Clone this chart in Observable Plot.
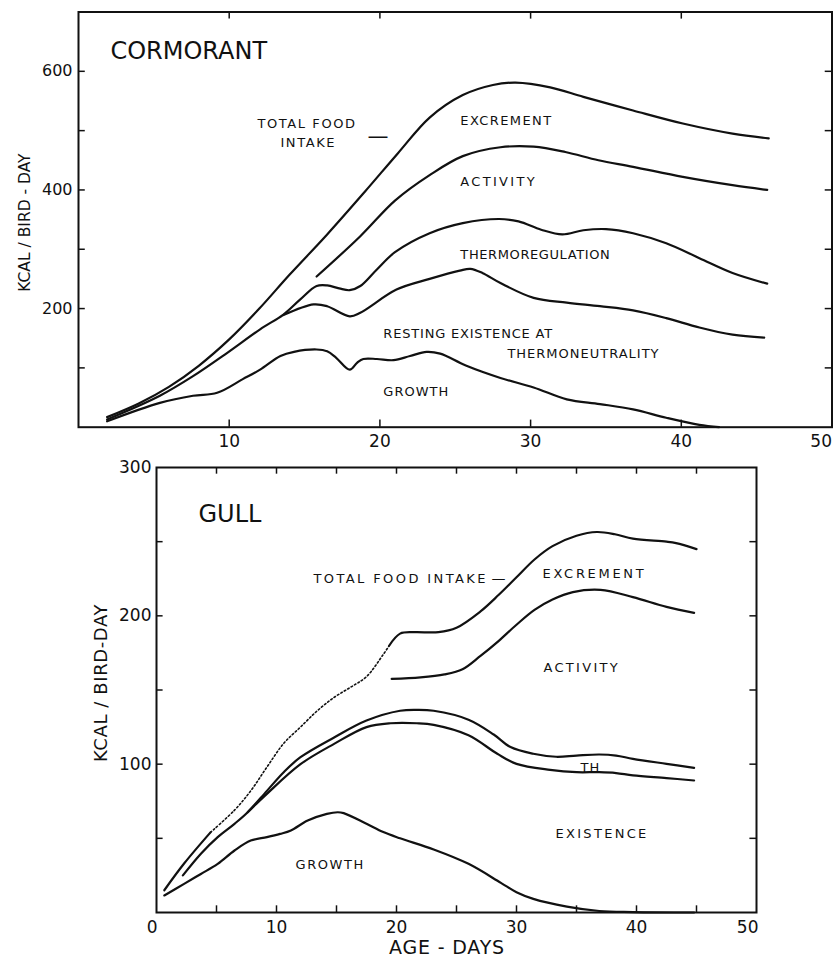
<!DOCTYPE html>
<html><head><meta charset="utf-8">
<script src="https://cdn.jsdelivr.net/npm/d3@7"></script>
<script src="https://cdn.jsdelivr.net/npm/@observablehq/plot@0.6"></script>
<style>
html,body{margin:0;padding:0;background:#fff;}
#chart{position:relative;width:833px;height:959px;overflow:hidden;background:#fff;}
#chart svg{position:absolute;left:0;display:block;background:transparent;}
</style></head><body><div id="chart"></div>
<script>
// ---------------- CORMORANT (kcal / bird-day vs age in days) ----------------
const cormTotalDays = [1.9, 4, 6, 8, 10, 12, 14, 16.5, 19, 21.2, 23.3, 25.5, 27.5, 29, 31.3, 33.5, 36.8, 40.1, 43.4, 45.8];
const cormTotalKcal = [17, 40, 68, 104, 148, 200, 257, 325, 397, 462, 522, 560, 577, 581, 573, 557, 534, 512, 495, 487];

const cormActivityDays = [15.8, 18.7, 21.0, 23.3, 25.5, 28.0, 30.2, 32.3, 34.5, 36.8, 40.1, 43.4, 45.7];
const cormActivityKcal = [254, 322, 382, 425, 457, 472, 473, 464, 450, 439, 422, 408, 400];

const cormThermoDays = [1.9, 5.4, 7.6, 9.85, 12.05, 13.6, 14.7, 15.8, 16.5, 17.3, 18.0, 18.7, 19.8, 21.0, 23.3, 25.5, 27.9, 29.2, 30.7, 32.1, 33.5, 35.0, 36.8, 39.0, 41.2, 43.4, 45.7];
const cormThermoKcal = [13, 53, 86, 125, 165, 190, 215, 238, 239, 234, 231, 238, 266, 295, 327, 344, 351, 347, 333, 325, 332, 334, 327, 310, 285, 260, 242];

const cormExistDays = [13.6, 15.6, 16.5, 18.0, 18.7, 21.1, 23.3, 25.3, 26.0, 26.8, 28.0, 30.2, 32.4, 34.6, 36.8, 39.0, 41.2, 43.4, 45.5];
const cormExistKcal = [189, 207, 204, 187, 193, 232, 250, 264, 267, 260, 243, 218, 210, 204, 197, 184, 168, 156, 151];

const cormGrowthDays = [1.9, 5.4, 7.6, 9.2, 10.9, 12.05, 13.4, 14.3, 15.8, 16.5, 17.1, 18.0, 18.5, 18.9, 19.8, 20.9, 22.0, 23.1, 24.0, 25.7, 28.0, 30.2, 32.4, 34.6, 36.8, 39.0, 41.2, 42.5];
const cormGrowthKcal = [10, 41, 53, 58, 81, 97, 120, 127, 131, 128, 117, 97, 109, 115, 115, 113, 120, 127, 124, 104, 83, 67, 47, 39, 30, 16, 4, 0];

const cormLabelText = ["TOTAL FOOD", "INTAKE", "EXCREMENT", "ACTIVITY", "THERMOREGULATION", "RESTING EXISTENCE AT", "THERMONEUTRALITY", "GROWTH"];
const cormLabelDays = [11.87, 13.4, 25.34, 25.34, 25.34, 20.23, 28.46, 20.23];
const cormLabelKcal = [505, 473, 510, 407, 284, 150, 117, 53];

const cormXTickValues = [10, 20, 30, 40];
const cormXTickLabels = [10, 20, 30, 40];
const cormYTickValues = [100, 200, 300, 400, 500, 600];
const cormYTickLabels = [200, 400, 600];

// ---------------- GULL ----------------
const gullTotalDays = [0.65, 2.3, 4.5, 6.5, 7.85, 9.2, 10.6, 12.0, 13.4, 14.8, 16.2, 17.5, 18.9, 19.4, 20.3, 21.5, 23.5, 25.0, 27.0, 28.5, 30.0, 31.5, 33.0, 35.0, 36.7, 38.2, 39.7, 42.5, 43.3, 45.0];
const gullTotalKcal = [15, 33, 54, 69, 82, 98, 114, 125, 136, 145, 152, 159, 174, 180, 188, 189, 189, 192, 203, 214, 226, 238, 247, 254, 256.5, 255, 252, 250, 249, 245];
const gullTotalDottedFrom = 4.5;   // estimated (dotted) part of the curve
const gullTotalDottedTo = 19.4;

const gullActivityDays = [19.6, 22.0, 24.0, 25.5, 27.0, 28.5, 30.0, 31.5, 33.0, 34.7, 37.0, 39.7, 42.5, 44.8];
const gullActivityKcal = [157.5, 158.5, 160.5, 164, 173, 183, 194, 204, 211, 216, 217.5, 212.6, 206, 202];

const gullThermoDays = [2.2, 3.7, 5.1, 6.5, 7.6, 9.2, 10.6, 12.0, 14.8, 17.5, 20.3, 21.7, 23.1, 26.0, 28.1, 29.5, 31.4, 33.3, 35.0, 36.9, 38.3, 39.7, 42.5, 44.8];
const gullThermoKcal = [25, 39.6, 50.8, 59.8, 67.6, 82, 94.6, 104.7, 118, 129.4, 136, 136.6, 136, 130, 120, 111.5, 107, 105, 105.8, 106.5, 105.8, 103.6, 100.2, 97.5];

const gullExistDays = [7.6, 9.2, 12.0, 14.8, 17.5, 19.5, 21.7, 23.1, 26.0, 28.4, 30.0, 32.8, 35.0, 36.9, 38.3, 39.7, 42.5, 44.8];
const gullExistKcal = [67.6, 80, 100, 113.7, 125, 127.6, 127.6, 126.5, 119.5, 107, 100.2, 96.2, 94.6, 94.6, 94, 92.4, 90.6, 89];

const gullGrowthDays = [0.65, 2.3, 3.7, 5.1, 6.5, 7.85, 9.2, 10.3, 11.2, 12.6, 14.2, 15.1, 15.6, 17.5, 18.9, 20.3, 23.1, 26.0, 28.7, 30.0, 31.4, 34.2, 36.9, 39.7, 44.8];
const gullGrowthKcal = [11.5, 19.3, 26, 32.8, 41.8, 48.5, 50.8, 53, 55.3, 62, 66.5, 67.6, 67, 59.8, 54.2, 50, 42.5, 32.8, 20, 13.7, 9.2, 4, 1, 0.3, 0];

const gullLabelText = ["TOTAL FOOD INTAKE", "EXCREMENT", "ACTIVITY", "TH", "EXISTENCE", "GROWTH"];
const gullLabelDays = [13.08, 32.17, 32.25, 35.33, 33.25, 11.58];
const gullLabelKcal = [221.8, 225.8, 161.8, 95, 49.9, 29];

const gullXTickValues = [5, 10, 15, 20, 25, 30, 35, 40, 45];
const gullXTickLabels = [0, 10, 20, 30, 40, 50];
const gullYTickValues = [50, 100, 150, 200, 250];
const gullYTickLabels = [100, 200, 300];

// ---------------- helpers ----------------
const rows = (name, days, vals) => days.map((d, i) => ({series: name, day: d, kcal: vals[i]}));
const labels = (texts, days, vals) => texts.map((t, i) => ({text: t, day: days[i], kcal: vals[i]}));
const INK = "#111";
const FONT = "DejaVu Sans, Verdana, sans-serif";

const cormLines = [
  ...rows("total", cormTotalDays, cormTotalKcal),
  ...rows("activity", cormActivityDays, cormActivityKcal),
  ...rows("thermo", cormThermoDays, cormThermoKcal),
  ...rows("existence", cormExistDays, cormExistKcal),
  ...rows("growth", cormGrowthDays, cormGrowthKcal)
];
const gullTotal = rows("total", gullTotalDays, gullTotalKcal);
const gullSolid = [
  ...gullTotal.filter(d => d.day <= gullTotalDottedFrom).map(d => ({...d, series: "total-a"})),
  ...gullTotal.filter(d => d.day >= gullTotalDottedTo).map(d => ({...d, series: "total-b"})),
  ...rows("activity", gullActivityDays, gullActivityKcal),
  ...rows("thermo", gullThermoDays, gullThermoKcal),
  ...rows("existence", gullExistDays, gullExistKcal),
  ...rows("growth", gullGrowthDays, gullGrowthKcal)
];
const gullDotted = gullTotal.filter(d => d.day >= gullTotalDottedFrom && d.day <= gullTotalDottedTo);

const chartEl = document.getElementById("chart");

// ---------------- top panel ----------------
const topPlot = Plot.plot({
  width: 833, height: 450,
  marginLeft: 78, marginRight: 1.5, marginTop: 11.5, marginBottom: 23.3,
  style: {fontFamily: FONT, color: INK, background: "transparent"},
  x: {domain: [0, 50], axis: null},
  y: {domain: [0, 700], axis: null},
  marks: [
    Plot.line(cormLines, {x: "day", y: "kcal", z: "series", curve: "catmull-rom", stroke: INK, strokeWidth: 2.2}),
    // inward ticks
    Plot.ruleX(cormXTickValues, {x: d => d, y1: 0, y2: 12, stroke: INK, strokeWidth: 1.5}),
    Plot.ruleX(cormXTickValues, {x: d => d, y1: 688, y2: 700, stroke: INK, strokeWidth: 1.5}),
    Plot.ruleY(cormYTickValues, {y: d => d, x1: 0, x2: 0.45, stroke: INK, strokeWidth: 1.5}),
    Plot.ruleY(cormYTickValues, {y: d => d, x1: 49.55, x2: 50, stroke: INK, strokeWidth: 1.5}),
    Plot.frame({stroke: INK, strokeWidth: 2}),
    // tick labels
    Plot.text(cormXTickLabels, {x: d => d, text: d => String(d), frameAnchor: "bottom", lineAnchor: "top", dy: 8, fontSize: 17, fill: INK}),
    Plot.text([50], {x: d => d, text: d => String(d), frameAnchor: "bottom", lineAnchor: "top", textAnchor: "end", dy: 8, fontSize: 17, fill: INK}),
    Plot.text(cormYTickLabels, {y: d => d, text: d => String(d), frameAnchor: "left", textAnchor: "end", dx: -6, fontSize: 16, fill: INK}),
    // axis title
    Plot.text(["KCAL / BIRD - DAY"], {text: d => d, frameAnchor: "left", textAnchor: "middle", rotate: -90, dx: -53, dy: 3, fontSize: 15.5, fill: INK}),
    // panel title
    Plot.text(["CORMORANT"], {text: d => d, x: () => 2.12, y: () => 620, textAnchor: "start", lineAnchor: "bottom", fontSize: 24, fill: INK}),
    // annotations
    Plot.text(labels(cormLabelText, cormLabelDays, cormLabelKcal), {x: "day", y: "kcal", text: "text", textAnchor: "start", lineAnchor: "bottom", fontSize: 13, fill: INK}),
    Plot.text(["—"], {text: d => d, x: () => 19.87, y: () => 490, fontSize: 21, fill: INK})
  ]
});
topPlot.style.top = "0px";
chartEl.appendChild(topPlot);

// ---------------- bottom panel ----------------
const bottomPlot = Plot.plot({
  width: 833, height: 509,
  marginLeft: 156, marginRight: 77, marginTop: 17, marginBottom: 47,
  style: {fontFamily: FONT, color: INK, background: "transparent"},
  x: {domain: [0, 50], axis: null},
  y: {domain: [0, 300], axis: null},
  marks: [
    Plot.line(gullSolid, {x: "day", y: "kcal", z: "series", curve: "catmull-rom", stroke: INK, strokeWidth: 2.2}),
    Plot.line(gullDotted, {x: "day", y: "kcal", curve: "catmull-rom", stroke: INK, strokeWidth: 1.6, strokeDasharray: "1.6,2.4"}),
    Plot.ruleX(gullXTickValues, {x: d => d, y1: 0, y2: 4.5, stroke: INK, strokeWidth: 1.5}),
    Plot.ruleX(gullXTickValues, {x: d => d, y1: 295.5, y2: 300, stroke: INK, strokeWidth: 1.5}),
    Plot.ruleY(gullYTickValues, {y: d => d, x1: 0, x2: 0.55, stroke: INK, strokeWidth: 1.5}),
    Plot.ruleY(gullYTickValues, {y: d => d, x1: 49.45, x2: 50, stroke: INK, strokeWidth: 1.5}),
    Plot.frame({stroke: INK, strokeWidth: 2}),
    Plot.text(gullXTickLabels.filter(d => d > 0 && d < 50), {x: d => d, text: d => String(d), frameAnchor: "bottom", lineAnchor: "top", dy: 8, fontSize: 17, fill: INK}),
    Plot.text(gullXTickLabels.filter(d => d === 0), {x: d => d, text: d => String(d), frameAnchor: "bottom", lineAnchor: "top", textAnchor: "end", dx: 1, dy: 8, fontSize: 17, fill: INK}),
    Plot.text(gullXTickLabels.filter(d => d === 50), {x: d => d, text: d => String(d), frameAnchor: "bottom", lineAnchor: "top", textAnchor: "end", dx: 2, dy: 8, fontSize: 17, fill: INK}),
    Plot.text(gullYTickLabels, {y: d => d, text: d => String(d), frameAnchor: "left", textAnchor: "end", dx: -5, fontSize: 17, fill: INK}),
    Plot.text(["KCAL / BIRD-DAY"], {text: d => d, frameAnchor: "left", textAnchor: "middle", rotate: -90, dx: -55, dy: -7, fontSize: 18, fill: INK}),
    Plot.text(["AGE - DAYS"], {text: d => d, frameAnchor: "bottom", textAnchor: "middle", lineAnchor: "bottom", dx: -9.5, dy: 41, fontSize: 19, fill: INK}),
    Plot.text(["GULL"], {text: d => d, x: () => 3.5, y: () => 263, textAnchor: "start", lineAnchor: "bottom", fontSize: 24, fill: INK}),
    Plot.text(labels(gullLabelText, gullLabelDays, gullLabelKcal), {x: "day", y: "kcal", text: "text", textAnchor: "start", lineAnchor: "bottom", fontSize: 13, fill: INK}),
    Plot.text(["—"], {text: d => d, x: () => 28.5, y: () => 225, fontSize: 14, fill: INK})
  ]
});
bottomPlot.style.top = "450px";
chartEl.appendChild(bottomPlot);

// letter spacing for the hand-lettered labels
const topSpacing = new Map([
  ["TOTAL FOOD", 1.6], ["INTAKE", 1.6], ["EXCREMENT", 1.4], ["ACTIVITY", 2.3], ["THERMOREGULATION", 0.6],
  ["RESTING EXISTENCE AT", 0.8], ["THERMONEUTRALITY", 1.0], ["GROWTH", 1.0]
]);
const gullSpacing = new Map([
  ["TOTAL FOOD INTAKE", 2.4], ["EXCREMENT", 2.7], ["ACTIVITY", 2.3], ["EXISTENCE", 2.3], ["GROWTH", 1.6], ["TH", 1.0],
  ["KCAL / BIRD-DAY", 0.6], ["AGE - DAYS", 0.8]
]);
topPlot.querySelectorAll("text").forEach(t => { const s = topSpacing.get(t.textContent); if (s != null) t.setAttribute("letter-spacing", s); });
bottomPlot.querySelectorAll("text").forEach(t => { const s = gullSpacing.get(t.textContent); if (s != null) t.setAttribute("letter-spacing", s); });
</script>
</body></html>
